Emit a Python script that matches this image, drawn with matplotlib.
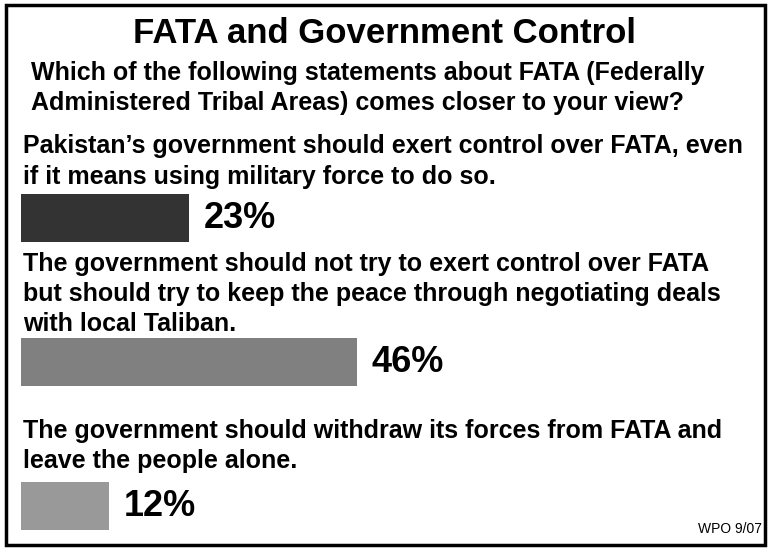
import matplotlib.pyplot as plt
from matplotlib.patches import Rectangle

plt.rcParams['font.family'] = ['Liberation Sans', 'DejaVu Sans']

title = "FATA and Government Control"
question = ["Which of the following statements about FATA (Federally",
            "Administered Tribal Areas) comes closer to your view?"]
statements = [
    ["Pakistan\u2019s government should exert control over FATA, even",
     "if it means using military force to do so."],
    ["The government should not try to exert control over FATA",
     "but should try to keep the peace through negotiating deals",
     "with local Taliban."],
    ["The government should withdraw its forces from FATA and",
     "leave the people alone."],
]
values = [23, 46, 12]
colors = ['#333333', '#808080', '#999999']
source = "WPO 9/07"

W, H = 769, 548
fig = plt.figure(figsize=(W / 100, H / 100), dpi=100)

# frame around the whole chart
fig.patches.append(Rectangle((5.5 / W, 3.5 / H), 759 / W, 540 / H, transform=fig.transFigure,
                             fill=False, edgecolor='black', linewidth=2.5))

def fy(py):
    return 1 - py / H

fig.text(0.5, fy(43), title, ha='center', va='baseline', fontsize=25, fontweight='bold')
for i, line in enumerate(question):
    fig.text(31 / W, fy(80 + i * 30), line, ha='left', va='baseline', fontsize=18, fontweight='bold')

baselines = [[153, 184], [271, 301, 331], [438, 468]]
for lines, ys in zip(statements, baselines):
    for line, y in zip(lines, ys):
        fig.text(23 / W, fy(y), line, ha='left', va='baseline', fontsize=18, fontweight='bold')

fig.text(762 / W, fy(533), source, ha='right', va='baseline', fontsize=10)

# bars: 0% at x=21px, 7.3 px per percent; rows 144 px apart
ax = fig.add_axes([21 / W, 0, 730 / W, 1 - 146 / H])
ax.barh(range(len(values)), values, height=48 / 144, color=colors)
for i, v in enumerate(values):
    ax.text(v + 2.05, i, f"{v}%", ha='left', va='center', fontsize=26, fontweight='bold')
ax.set_xlim(0, 100)
ax.set_ylim(-0.5 + 402 / 144, -0.5)
ax.axis('off')

fig.savefig('out.png', dpi=100)
